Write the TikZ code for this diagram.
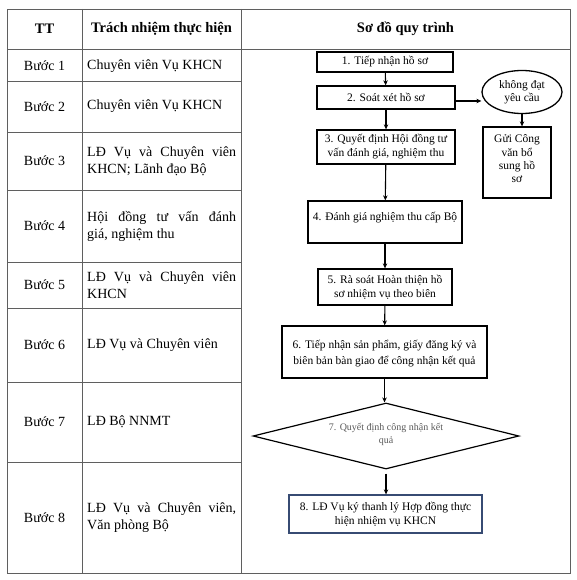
\documentclass[tikz,border=0pt]{standalone}
\usepackage{fontspec}
\setmainfont{Liberation Serif}
\usetikzlibrary{shapes.geometric,arrows.meta}
\definecolor{gridc}{RGB}{95,95,95}
\definecolor{navyb}{RGB}{55,75,115}
\definecolor{graytxt}{RGB}{90,90,90}
\begin{document}
\begin{tikzpicture}[x=1pt,y=-1pt,
  grid/.style={draw=gridc,line width=0.9pt},
  headtxt/.style={font=\fontsize{14.5}{16}\selectfont\bfseries,inner sep=0pt},
  steptxt/.style={font=\fontsize{14}{16}\selectfont,inner sep=0pt},
  resptxt/.style={font=\fontsize{14}{17}\selectfont,inner sep=0pt,text width=149pt,align=justify,anchor=west},
  fbox/.style={draw=black,line width=1.3pt,rectangle,inner sep=0pt,font=\fontsize{11.5}{14}\selectfont,align=center},
  flow/.style={draw=black,line width=1.1pt,-{Stealth[length=5pt,width=4.5pt]}}
]
\useasboundingbox (0,0) rectangle (576,580);
\fill[white] (0,0) rectangle (576,580);
\hyphenpenalty=10000 \exhyphenpenalty=10000 \tolerance=9999
% table grid
\draw[grid] (7,9) rectangle (570,573);
\draw[grid] (82,9) -- (82,573);
\draw[grid] (241,9) -- (241,573);
\draw[grid] (7,49) -- (570,49);
\foreach \yy in {81,132,190,262,308,382,462}{\draw[grid] (7,\yy) -- (241,\yy);}
% header
\node[headtxt] (h1) at (44.5,29) {TT};
\node[headtxt] (h2) at (161.5,29) {Trách nhiệm thực hiện};
\node[headtxt] (h3) at (405.5,29) {Sơ đồ quy trình};
% steps
\node[steptxt] (s1) at (44.5,66) {Bước 1};
\node[steptxt] (s2) at (44.5,106.5) {Bước 2};
\node[steptxt] (s3) at (44.5,161) {Bước 3};
\node[steptxt] (s4) at (44.5,226) {Bước 4};
\node[steptxt] (s5) at (44.5,285) {Bước 5};
\node[steptxt] (s6) at (44.5,345) {Bước 6};
\node[steptxt] (s7) at (44.5,422) {Bước 7};
\node[steptxt] (s8) at (44.5,518) {Bước 8};
% responsibilities
\node[resptxt] (r1) at (87,66) {Chuyên viên Vụ KHCN};
\node[resptxt] (r2) at (87,106.5) {Chuyên viên Vụ KHCN};
\node[resptxt] (r3) at (87,161) {LĐ Vụ và Chuyên viên KHCN; Lãnh đạo Bộ};
\node[resptxt] (r4) at (87,226) {Hội đồng tư vấn đánh\linebreak giá, nghiệm thu};
\node[resptxt] (r5) at (87,285) {LĐ Vụ và Chuyên viên KHCN};
\node[resptxt] (r6) at (87,345) {LĐ Vụ và Chuyên viên};
\node[resptxt] (r7) at (87,422) {LĐ Bộ NNMT};
\node[resptxt] (r8) at (87,518) {LĐ Vụ và Chuyên viên, Văn phòng Bộ};
% flowchart
\node[fbox,minimum width=136pt,minimum height=20pt] (b1) at (385,62) {1. Tiếp nhận hồ sơ};
\node[fbox,minimum width=138pt,minimum height=23pt] (b2) at (386,97.5) {2. Soát xét hồ sơ};
\node[fbox,minimum width=138pt,minimum height=34pt] (b3) at (386,147) {3. Quyết định Hội đồng tư\\vấn đánh giá, nghiệm thu};
\node[fbox,minimum width=154pt,minimum height=42pt,
  label={[anchor=north,yshift=-8pt,font=\fontsize{11.5}{14}\selectfont]north:4. Đánh giá nghiệm thu cấp Bộ}] (b4) at (385,222) {};
\node[fbox,minimum width=134pt,minimum height=36pt] (b5) at (385,287) {5. Rà soát Hoàn thiện hồ\\sơ nhiệm vụ theo biên};
\node[fbox,minimum width=205pt,minimum height=52pt,
  label={[anchor=north,yshift=-11pt,align=center,font=\fontsize{11.5}{16}\selectfont]north:6. Tiếp nhận sản phẩm, giấy đăng ký và\\biên bản bàn giao để công nhận kết quả}] (b6) at (384.5,352) {};
\node[draw=black,line width=1.2pt,diamond,aspect=4,minimum width=266pt,minimum height=66pt,inner sep=0pt] (d7) at (386,436) {};
\node[font=\fontsize{10}{13.5}\selectfont,text=graytxt,align=center] (t7) at (386,434.5) {7. Quyết định công nhận kết\\quả};
\node[fbox,draw=navyb,minimum width=193pt,minimum height=38pt] (b8) at (385.5,514) {8. LĐ Vụ ký thanh lý Hợp đồng thực\\hiện nhiệm vụ KHCN};
\node[draw=black,line width=1.3pt,ellipse,minimum width=80pt,minimum height=43pt,inner sep=0pt,align=center,font=\fontsize{11.5}{12.5}\selectfont] (el) at (522,92) {không đạt\\yêu cầu};
\node[fbox,minimum width=68pt,minimum height=71pt,
  label={[anchor=north,yshift=-5pt,align=center,font=\fontsize{11.5}{13.2}\selectfont]north:Gửi Công\\văn bổ\\sung hồ\\sơ}] (g) at (517,162.5) {};
% connectors
\draw[flow] (b1) -- (b2);
\draw[flow] (b2) -- (b3);
\draw[flow] (b3) -- (b4);
\draw[flow] (b4) -- (b5);
\draw[flow] (b5) -- (b6);
\draw[flow] (b6.south) -- (b6.south |- d7.north);
\draw[flow,shorten <=4pt] (d7.south) -- (d7.south |- b8.north);
\draw[flow] ([yshift=-3.5pt]b2.east) -- ([yshift=-3.5pt]b2.east -| el.west);
\draw[flow] (el.south) -- (el.south |- g.north);
\end{tikzpicture}
\end{document}
